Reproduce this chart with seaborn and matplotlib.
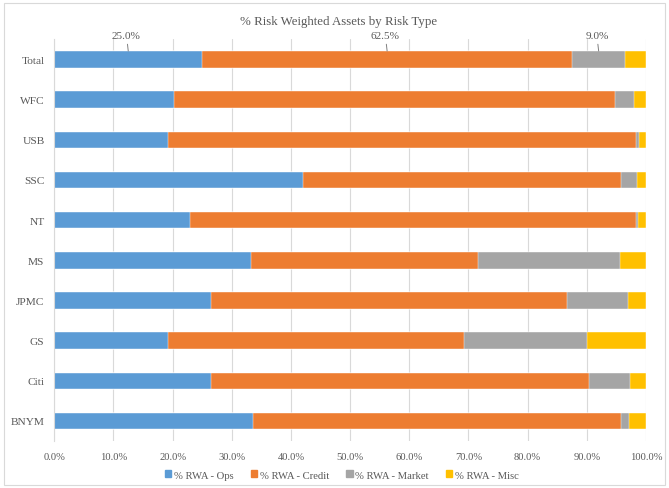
import matplotlib
matplotlib.use("Agg")
import matplotlib.pyplot as plt
import matplotlib.patches as mpatches
import numpy as np
import pandas as pd
import seaborn as sns

categories = ["Total", "WFC", "USB", "SSC", "NT", "MS", "JPMC", "GS", "Citi", "BNYM"]
ops = [25.0, 20.3, 19.2, 42.1, 23.0, 33.2, 26.5, 19.3, 26.4, 33.5]
credit = [62.5, 74.5, 79.1, 53.7, 75.3, 38.4, 60.1, 49.9, 64.0, 62.2]
market = [9.0, 3.2, 0.5, 2.6, 0.4, 24.0, 10.3, 20.8, 6.9, 1.5]
misc = [3.5, 2.0, 1.2, 1.6, 1.3, 4.4, 3.1, 10.0, 2.7, 2.8]
series_names = ["% RWA - Ops", "% RWA - Credit", "% RWA - Market", "% RWA - Misc"]
colors = ["#5B9BD5", "#ED7D31", "#A5A5A5", "#FFC000"]
title = "% Risk Weighted Assets by Risk Type"
xticks = [0, 10, 20, 30, 40, 50, 60, 70, 80, 90, 100]

sns.set_theme(style="white")
plt.rcParams["font.family"] = ["Liberation Serif", "DejaVu Serif"]
txt = "#595959"

df = pd.DataFrame({"cat": categories, "ops": ops, "credit": credit,
                   "market": market, "misc": misc})
cols = ["ops", "credit", "market", "misc"]
cum = df[cols].cumsum(axis=1)

fig = plt.figure(figsize=(6.69, 4.89), dpi=100)
ax = fig.add_axes([54.3 / 669, 1 - 442 / 489, (646 - 54.3) / 669, (442 - 40.4) / 489])

for i in reversed(range(4)):
    sns.barplot(x=cum[cols[i]], y=df["cat"], order=categories, orient="h",
                color=colors[i], width=0.41, saturation=1, ax=ax,
                edgecolor="white", linewidth=0.3)

ax.set_xlim(0, 100)
ax.set_ylim(9.5, -0.5)
ax.set_xticks(xticks)
ax.set_xticklabels([f"{v:.1f}%" for v in xticks])
ax.set_xlabel("")
ax.set_ylabel("")
ax.grid(axis="x", color="#d9d9d9", lw=0.8)
ax.set_axisbelow(True)
for s in ["top", "right", "bottom"]:
    ax.spines[s].set_visible(False)
ax.spines["left"].set_color("#d9d9d9")
ax.spines["left"].set_linewidth(0.8)
ax.tick_params(axis="both", length=0, colors=txt, labelsize=7.6)
ax.tick_params(axis="x", pad=8)
ax.tick_params(axis="y", pad=7, labelsize=8.2)

# data labels on Total bar
total_vals = [ops[0], credit[0], market[0]]
starts = [0, ops[0], ops[0] + credit[0]]
for st, v in zip(starts, total_vals):
    mid = st + v / 2
    ax.annotate(f"{v:.1f}%", xy=(mid, -0.21), xytext=(mid - 0.3, -0.59),
                ha="center", va="center", fontsize=8.1, color=txt,
                annotation_clip=False,
                arrowprops=dict(arrowstyle="-", color="#7f7f7f", lw=0.7,
                                shrinkA=0.5, shrinkB=0))

fig.text(339 / 669, 1 - 22.5 / 489, title, ha="center", va="center",
         fontsize=9.3, color=txt)

handles = [mpatches.Patch(color=c, label=n) for c, n in zip(colors, series_names)]
fig.legend(handles=handles, loc="center", bbox_to_anchor=(342 / 669, 1 - 476 / 489),
           ncol=4, frameon=False, fontsize=7.7, handlelength=0.6, handleheight=0.6,
           handletextpad=0.25, columnspacing=1.6, labelcolor=txt)

fig.patches.append(mpatches.Rectangle((4 / 669, 3 / 489), 661 / 669, 482 / 489,
                                      transform=fig.transFigure, fill=False,
                                      edgecolor="#d9d9d9", lw=0.8))

fig.savefig("out.png", dpi=100)
